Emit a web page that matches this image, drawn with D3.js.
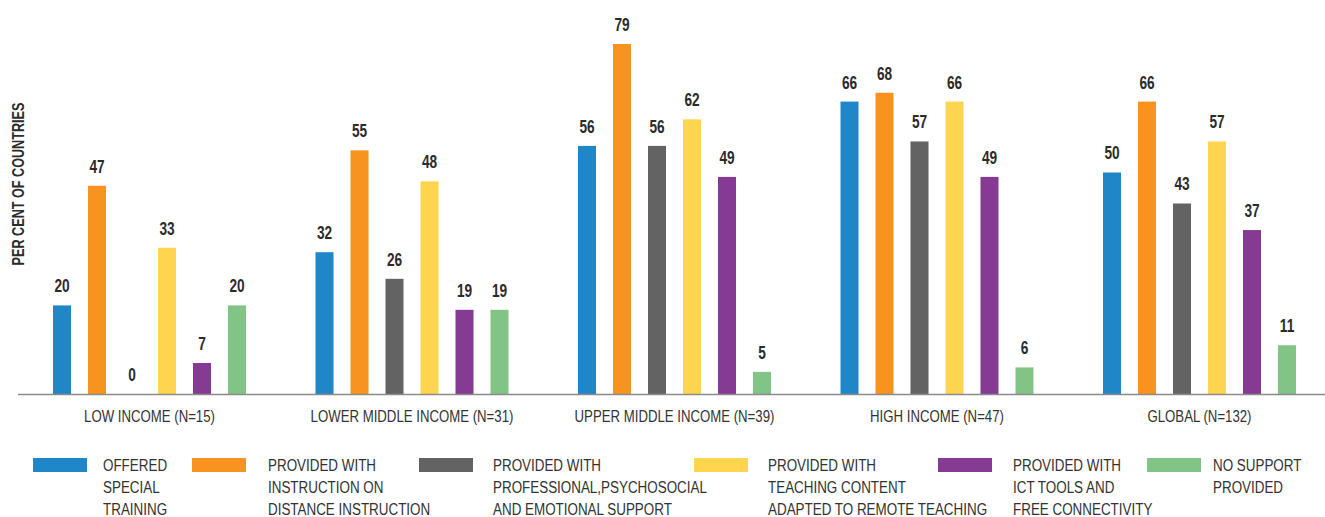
<!DOCTYPE html>
<html>
<head>
<meta charset="utf-8">
<script src="https://cdn.jsdelivr.net/npm/d3@7.9.0/dist/d3.min.js"></script>
<style>
  body { margin:0; background:#fff; }
  svg { display:block; font-family:"Liberation Sans",Arial,sans-serif; }
  .val { font-weight:bold; font-size:18px; fill:#2b2b2b; }
  .cat { font-size:16.5px; fill:#333; }
  .leg { font-size:17px; fill:#333; }
  .ylab { font-weight:bold; font-size:16px; fill:#2b2b2b; }
</style>
</head>
<body>
<svg id="chart" width="1325" height="517"></svg>
<script>
const groups = ['LOW INCOME (N=15)','LOWER MIDDLE INCOME (N=31)','UPPER MIDDLE INCOME (N=39)','HIGH INCOME (N=47)','GLOBAL (N=132)'];
const series = ['training','distance','psycho','content','ict','none'];
const seriesLabels = [
  ['OFFERED','SPECIAL','TRAINING'],
  ['PROVIDED WITH','INSTRUCTION ON','DISTANCE INSTRUCTION'],
  ['PROVIDED WITH','PROFESSIONAL,PSYCHOSOCIAL','AND EMOTIONAL SUPPORT'],
  ['PROVIDED WITH','TEACHING CONTENT','ADAPTED TO REMOTE TEACHING'],
  ['PROVIDED WITH','ICT TOOLS AND','FREE CONNECTIVITY'],
  ['NO SUPPORT','PROVIDED']
];
const colors = ['#1f87c8','#f7931e','#636363','#ffd44f','#853a93','#81c485'];
// values per series, in group order
const training = [20,32,56,66,50];
const distance = [47,55,79,68,66];
const psycho   = [0,26,56,57,43];
const content  = [33,48,62,66,57];
const ict      = [7,19,49,49,37];
const none     = [20,19,5,6,11];
const values = {training,distance,psycho,content,ict,none};

// legend layout
const legSwatchX = [33,192,419,694,938,1147];
const legTextX   = [103,268,493,768,1013,1213];
const SQ = 0.79; // horizontal squeeze to mimic a condensed face

const svg = d3.select('#chart');
const color = d3.scaleOrdinal(series, colors);

const x0 = d3.scaleBand().domain(groups).range([18.25,1330.75]);
const x1 = d3.scaleBand().domain(series)
  .range([34.75, 34.75+193]).paddingInner(17/35).paddingOuter(0);
const y = d3.scaleLinear().domain([0,79]).range([394,44]);

const rows = groups.map((g,i)=>({group:g, bars:series.map(s=>({s, v:values[s][i]}))}));

const g = svg.selectAll('g.grp').data(rows).enter().append('g')
  .attr('class','grp')
  .attr('transform',d=>`translate(${x0(d.group)},0)`);

g.selectAll('rect').data(d=>d.bars).enter().append('rect')
  .attr('x',d=>x1(d.s)).attr('width',x1.bandwidth())
  .attr('y',d=>y(d.v)).attr('height',d=>y(0)-y(d.v))
  .attr('fill',d=>color(d.s));

g.selectAll('text.val').data(d=>d.bars).enter().append('text')
  .attr('class','val')
  .attr('transform',d=>`translate(${x1(d.s)+x1.bandwidth()/2},${y(d.v)-13}) scale(0.76,1)`)
  .attr('text-anchor','middle')
  .text(d=>d.v);

// baseline
svg.append('line').attr('x1',18).attr('x2',1325).attr('y1',y(0)+0.5).attr('y2',y(0)+0.5)
  .attr('stroke','#8a8a8a').attr('stroke-width',1.5);

// category labels
svg.selectAll('text.cat').data(groups).enter().append('text')
  .attr('class','cat')
  .attr('transform',d=>`translate(${x0(d)+x0.bandwidth()/2},422) scale(0.80,1)`)
  .attr('text-anchor','middle').text(d=>d);

// y label
svg.append('text').attr('class','ylab')
  .attr('transform',`translate(24,184) rotate(-90) scale(${SQ},1)`)
  .attr('text-anchor','middle').text('PER CENT OF COUNTRIES');

// legend
const leg = svg.selectAll('g.legitem').data(series).enter().append('g').attr('class','legitem');
leg.append('rect')
  .attr('x',(d,i)=>legSwatchX[i]).attr('y',458).attr('width',54).attr('height',14)
  .attr('fill',d=>color(d));
leg.append('text').attr('class','leg')
  .attr('transform',(d,i)=>`translate(${legTextX[i]},471) scale(${SQ},1)`)
  .selectAll('tspan').data((d,i)=>seriesLabels[i]).enter().append('tspan')
  .attr('x',0)
  .attr('dy',(d,i)=>i===0?0:22)
  .text(d=>d);
</script>
</body>
</html>
